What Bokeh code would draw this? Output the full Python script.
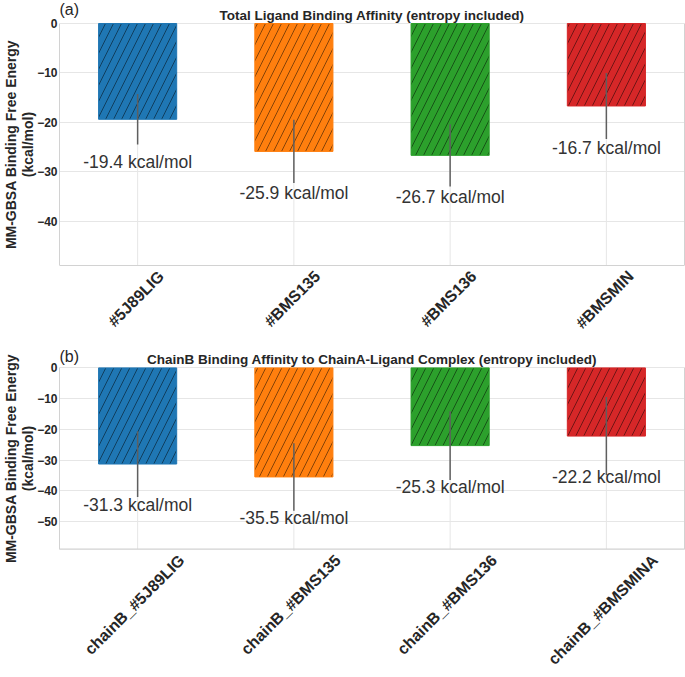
import math
from bokeh.plotting import figure
from bokeh.models import (ColumnDataSource, Range1d, FixedTicker, LabelSet, Label,
                          LinearAxis, CustomJSTickFormatter)
from bokeh.layouts import column
from bokeh.core.properties import value
from bokeh.embed import file_html
from bokeh.resources import INLINE

FONT = "Liberation Sans"
TXT = "#262626"
SPINE = "#d2d2d2"
GRID = "#e6e6e6"

colors = ["#1f77b4", "#ff7f0e", "#2ca02c", "#d62728"]

top_cats = ["#5J89LIG", "#BMS135", "#BMS136", "#BMSMIN"]
top_vals = [-19.4, -25.9, -26.7, -16.7]
top_errs = [5.1, 6.4, 6.3, 6.7]
top_label_y = [-28.1, -34.4, -35.2, -25.2]
top_ticks = [0, -10, -20, -30, -40]
top_ymin = -49

bot_cats = ["chainB_#5J89LIG", "chainB_#BMS135", "chainB_#BMS136", "chainB_#BMSMINA"]
bot_vals = [-31.3, -35.5, -25.3, -22.2]
bot_errs = [10.7, 11.0, 11.2, 12.7]
bot_label_y = [-44.7, -49.0, -38.8, -35.5]
bot_ticks = [0, -10, -20, -30, -40, -50]
bot_ymin = -59

# approximate advance widths (em) of Liberation Sans Bold, used to centre rotated tick labels
BOLD_W = {'#': .556, '_': .556, 'A': .722, 'B': .722, 'G': .778, 'I': .278, 'J': .556,
          'L': .611, 'M': .833, 'N': .722, 'S': .667, 'a': .556, 'c': .556, 'h': .611,
          'i': .278, 'n': .611}

FIG_W = 685
BORDER_L = 57
BORDER_R = 1
XLAB_SIZE = 16
EXT = 23          # blank pixels kept above and below the axes area inside the frame


def text_len(s, size):
    return sum(BOLD_W.get(ch, .556) for ch in s) * size


def make_panel(cats, vals, errs, label_y, ticks, ymin, title, tag,
               axes_h, border_bottom, title_off, tag_off, xlab_gap):
    n = len(cats)
    xs = [i + 0.5 for i in range(n)]          # category centres (one unit per category)
    e = EXT * (-ymin) / axes_h
    src = ColumnDataSource(dict(
        x=xs, cat=cats, val=vals,
        lo=[v - er for v, er in zip(vals, errs)],
        hi=[v + er for v, er in zip(vals, errs)],
        ly=label_y,
        txt=[f"{v:.1f} kcal/mol" for v in vals],
        color=colors,
        base=[ymin] * n,
        zero=[0] * n,
    ))
    p = figure(x_range=Range1d(0, n), y_range=Range1d(ymin - e, e), width=FIG_W,
               height=2 * EXT + axes_h + border_bottom,
               output_backend="svg", toolbar_location=None,
               min_border_left=BORDER_L, min_border_right=BORDER_R,
               min_border_top=0, min_border_bottom=border_bottom)
    p.outline_line_color = None
    p.background_fill_color = "white"
    p.border_fill_color = "white"

    # vertical grid lines, only over the axes area
    p.segment(x0="x", y0="base", x1="x", y1="zero", source=src,
              line_color=GRID, line_width=1)
    # bottom spine
    p.segment(x0=[0], y0=[ymin], x1=[n], y1=[ymin], line_color=SPINE, line_width=1.2)

    p.vbar(x="x", top="val", bottom=0, width=0.5, source=src,
           fill_color="color", line_color="color",
           hatch_pattern="/", hatch_color="black", hatch_scale=16,
           hatch_weight=0.6, hatch_alpha=0.8)
    p.segment(x0="x", y0="lo", x1="x", y1="hi", source=src,
              line_color="#5f5f5f", line_width=1.5)
    p.add_layout(LabelSet(x="x", y="ly", text="txt", source=src,
                          text_align="center", text_baseline="middle",
                          text_font_size="17.5px", text_font=value(FONT),
                          text_color="#333333"))
    p.add_layout(Label(x=0, y=0, y_offset=tag_off, text=tag,
                       text_align="left", text_baseline="middle",
                       text_font_size="16px", text_font=FONT, text_color=TXT))
    p.add_layout(Label(x=n / 2, y=0, y_offset=title_off, text=title,
                       text_align="center", text_baseline="middle",
                       text_font_size="13.5px", text_font_style="bold",
                       text_font=FONT, text_color=TXT))

    # y axis
    t = FixedTicker(ticks=ticks)
    ya = p.yaxis[0]
    ya.ticker = t
    p.ygrid.ticker = t
    p.ygrid.grid_line_color = GRID
    ya.bounds = (ymin, 0)
    ya.major_label_overrides = {tk: ("0" if tk == 0 else "\u2212" + str(abs(tk))) for tk in ticks}
    ya.major_label_text_font = FONT
    ya.major_label_text_font_size = "12px"
    ya.major_label_text_font_style = "bold"
    ya.major_label_text_color = TXT
    ya.major_label_standoff = 2
    ya.axis_line_color = SPINE
    ya.major_tick_line_color = None
    ya.minor_tick_line_color = None
    ya.major_tick_out = 0
    ya.major_tick_in = 0
    ya.minor_tick_out = 0
    ya.minor_tick_in = 0
    ya.axis_label = "MM-GBSA Binding Free Energy\n(kcal/mol)"
    ya.axis_label_text_font = FONT
    ya.axis_label_text_font_size = "14px"
    ya.axis_label_text_font_style = "bold"
    ya.axis_label_text_color = TXT
    ya.axis_label_text_line_height = 1.05
    ya.axis_label_standoff = -2

    # right spine
    ra = LinearAxis(ticker=FixedTicker(ticks=[]), bounds=(ymin, 0),
                    axis_line_color=SPINE, major_tick_out=0, major_tick_in=0,
                    minor_tick_out=0, minor_tick_in=0, major_label_standoff=0,
                    major_label_text_font_size="0px")
    p.add_layout(ra, "right")

    # x tick labels: rotated 45 degrees and centred on each category
    p.xgrid.visible = False
    cat_px = (FIG_W - BORDER_L - 3 - BORDER_R) / n
    pos = [x + 0.33 * text_len(c, XLAB_SIZE) / cat_px for x, c in zip(xs, cats)]
    xa = p.xaxis[0]
    xa.ticker = FixedTicker(ticks=pos)
    xa.formatter = CustomJSTickFormatter(args=dict(labels=cats),
                                         code="return labels[Math.floor(tick)];")
    xa.major_label_orientation = math.pi / 4
    xa.major_label_text_font = FONT
    xa.major_label_text_font_size = f"{XLAB_SIZE}px"
    xa.major_label_text_font_style = "bold"
    xa.major_label_text_color = TXT
    xa.major_label_standoff = xlab_gap - EXT
    xa.axis_line_color = None
    xa.major_tick_out = 0
    xa.major_tick_in = 0
    xa.minor_tick_out = 0
    xa.minor_tick_in = 0
    return p


p1 = make_panel(top_cats, top_vals, top_errs, top_label_y, top_ticks, top_ymin,
                "Total Ligand Binding Affinity (entropy included)", "(a)",
                axes_h=242, border_bottom=57, title_off=8, tag_off=14, xlab_gap=8)
p2 = make_panel(bot_cats, bot_vals, bot_errs, bot_label_y, bot_ticks, bot_ymin,
                "ChainB Binding Affinity to ChainA-Ligand Complex (entropy included)", "(b)",
                axes_h=186, border_bottom=99, title_off=8, tag_off=11, xlab_gap=9)

layout = column(p1, p2, spacing=0)
open("out.html", "w").write(file_html(layout, INLINE))
